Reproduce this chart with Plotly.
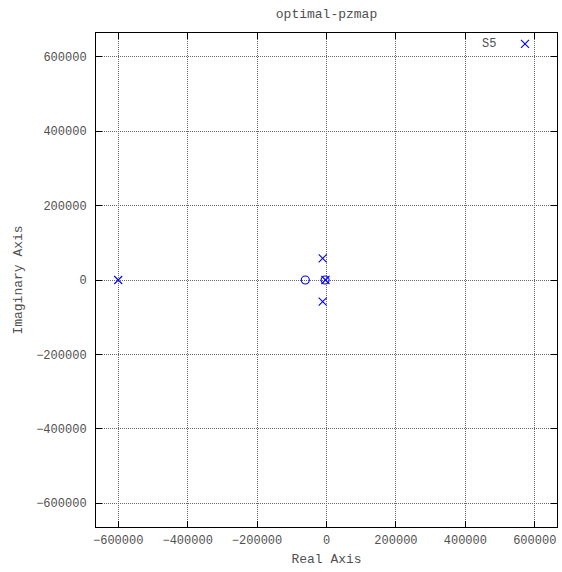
import plotly.graph_objects as go

# Data (pole-zero map)
pole_re = [-600000, -11000, -11000, -3000]
pole_im = [0, 58000, -58000, 0]
zero_re = [-61000, -4000]
zero_im = [0, 0]

title_text = "optimal-pzmap"
legend_label = "S5"
tick_vals = [-600000, -400000, -200000, 0, 200000, 400000, 600000]

FONT = "Liberation Mono, Courier New, monospace"
TXT = "#505050"
BLUE = "#0000ff"

fig = go.Figure()
fig.add_trace(go.Scatter(x=pole_re, y=pole_im, mode="markers",
                         marker=dict(symbol="x-thin-open", size=8, color=BLUE,
                                     line=dict(color=BLUE, width=1.1)),
                         showlegend=False))
fig.add_trace(go.Scatter(x=zero_re, y=zero_im, mode="markers",
                         marker=dict(symbol="circle-open", size=8, color=BLUE,
                                     line=dict(color=BLUE, width=1.1)),
                         showlegend=False))
# legend key sample (gnuplot-style: label then symbol)
fig.add_trace(go.Scatter(x=[0.9306], y=[0.978], mode="markers", xaxis="x2", yaxis="y2",
                         marker=dict(symbol="x-thin-open", size=8, color=BLUE,
                                     line=dict(color=BLUE, width=1.1)),
                         showlegend=False, hoverinfo="skip"))

axis_common = dict(
    tickvals=tick_vals,
    ticktext=[str(v).replace("-", "\u2212") for v in tick_vals],
    showgrid=True, gridcolor="#666666", griddash="1px,1px", gridwidth=1,
    zeroline=False, showline=True, linecolor="black", linewidth=1, mirror="ticks",
    ticks="inside", ticklen=6, tickcolor="black", tickwidth=1,
    tickfont=dict(family=FONT, size=12, color=TXT),
    range=[-664000, 664000], automargin=False,
)

fig.update_layout(
    width=562, height=572,
    margin=dict(l=96, r=5, t=33, b=45),
    paper_bgcolor="white", plot_bgcolor="white",
    title=dict(text=title_text, xref="paper", x=0.5, xanchor="center",
               yref="container", y=0.976, yanchor="middle",
               font=dict(family=FONT, size=13, color=TXT)),
    xaxis=dict(**axis_common, ticklabelstandoff=2,
               title=dict(text="Real Axis", font=dict(family=FONT, size=13, color=TXT), standoff=6)),
    yaxis=dict(**axis_common, ticklabelstandoff=6,
               title=dict(text="Imaginary Axis", font=dict(family=FONT, size=13, color=TXT), standoff=10)),
    xaxis2=dict(range=[0, 1], overlaying="x", visible=False, fixedrange=True),
    yaxis2=dict(range=[0, 1], overlaying="y", visible=False, fixedrange=True),
    showlegend=False,
    shapes=[dict(type="rect", xref="paper", yref="paper", x0=0.815, x1=0.997, y0=0.962, y1=0.998,
                 fillcolor="white", line=dict(width=0), layer="between")],
    annotations=[dict(text=legend_label, xref="paper", yref="paper", x=0.873, y=0.978,
                      xanchor="right", yanchor="middle", showarrow=False,
                      font=dict(family=FONT, size=12, color=TXT))],
)

fig.write_html("out.html", config={"responsive": False, "displayModeBar": False},
               post_script="document.body.style.margin='0';document.body.style.overflow='hidden';")
